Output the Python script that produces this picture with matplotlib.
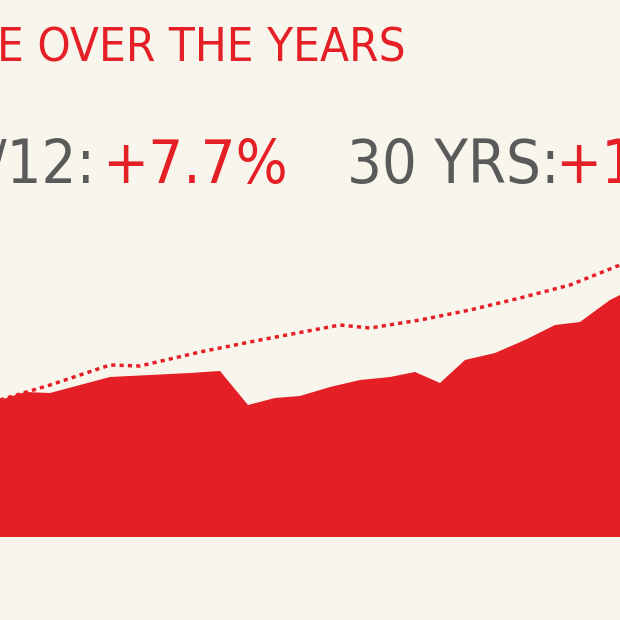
import matplotlib
matplotlib.use("Agg")
import matplotlib.pyplot as plt

years = [0,25,50,80,110,150,190,220,248,275,300,330,360,390,415,440,465,495,525,555,580,610,620]
values = [137,145,144,152,160,162,164,166,132,139,141,150,157,160,165,154,177,184,197,212,215,237,242]
trend_x = [0,50,110,140,200,260,340,370,420,470,520,570,620]
trend_y = [137,152,172,171,185,197,212,209,217,227,239,252,272]

bg = "#f8f5ec"; red = "#e41f26"; gray = "#5a5a5a"
fig = plt.figure(figsize=(6.2,6.2), dpi=100, facecolor=bg)
ax = fig.add_axes([0,0,1,1]); ax.set_facecolor(bg)
ax.set_xlim(0,620); ax.set_ylim(-83,537)
ax.fill_between(years, values, 0, color=red, lw=0)
ax.plot(trend_x, trend_y, color=red, lw=2.5, ls=(0,(1.2,1.2)))
ax.axis("off")
kw = dict(family="DejaVu Sans", fontstretch="condensed", va="baseline")
fig.text(-0.005, 0.90, "E OVER THE YEARS", color=red, fontsize=34, **kw)
fig.text(-0.02, 0.705, "/12:", color=gray, fontsize=44, **kw)
fig.text(0.165, 0.705, "+7.7%", color=red, fontsize=44, **kw)
fig.text(0.56, 0.705, "30 YRS:", color=gray, fontsize=44, **kw)
fig.text(0.895, 0.705, "+11", color=red, fontsize=44, **kw)
fig.savefig("out.png", facecolor=bg)
